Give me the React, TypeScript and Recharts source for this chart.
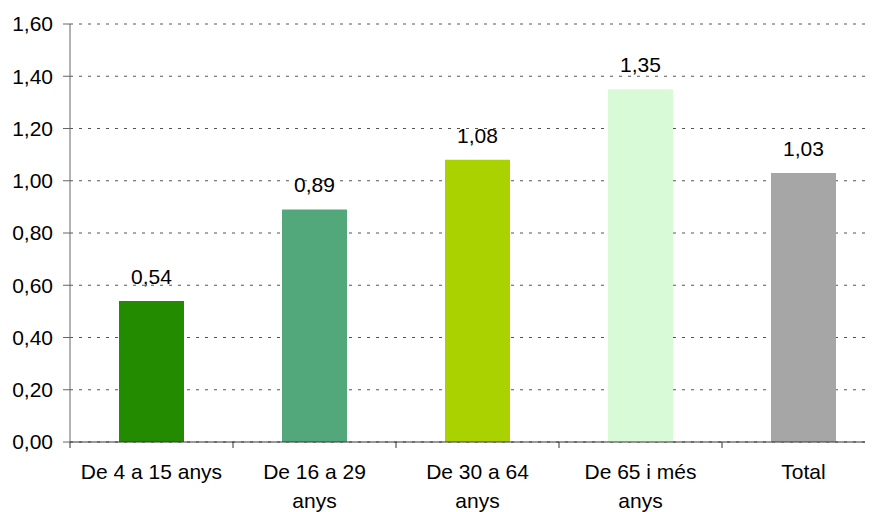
import React from 'react';
import { BarChart, Bar, XAxis, YAxis, CartesianGrid, LabelList, Cell } from 'recharts';

const categories = ['De 4 a 15 anys', 'De 16 a 29 anys', 'De 30 a 64 anys', 'De 65 i més anys', 'Total'];
const tickLines = [['De 4 a 15 anys'], ['De 16 a 29', 'anys'], ['De 30 a 64', 'anys'], ['De 65 i més', 'anys'], ['Total']];
const values = [0.54, 0.89, 1.08, 1.35, 1.03];
const colors = ['#228B00', '#52A87A', '#AAD200', '#D9FAD7', '#A6A6A6'];
const yTicks = [0, 0.2, 0.4, 0.6, 0.8, 1.0, 1.2, 1.4, 1.6];

const data = categories.map((name, i) => ({ name, value: values[i] }));

const fmt = (v: number) => v.toFixed(2).replace('.', ',');
const FONT = 'Liberation Sans, Arial, sans-serif';

const BAND = (885 - 70) / categories.length;

const CategoryTick = (props: any) => {
  const { x, y, payload, index } = props;
  const lines = tickLines[index] || [payload.value];
  return (
    <g>
      <line x1={x - BAND / 2} y1={y - 8} x2={x - BAND / 2} y2={y - 2} stroke="#333" />
      {index === categories.length - 1 && (
        <line x1={x + BAND / 2} y1={y - 8} x2={x + BAND / 2} y2={y - 2} stroke="#333" />
      )}
      <text x={x} y={y} textAnchor="middle" fill="#000" fontSize={21} fontFamily={FONT}>
        {lines.map((l: string, i: number) => (
          <tspan key={i} x={x} dy={29}>
            {l}
          </tspan>
        ))}
      </text>
    </g>
  );
};

export default function App() {
  return (
    <div style={{ marginLeft: -8, marginTop: -8, width: 873, height: 512, overflow: 'hidden' }}>
      <BarChart
        width={885}
        height={512}
        data={data}
        margin={{ top: 24, right: 0, left: 0, bottom: 0 }}
        barCategoryGap={0}
      >
        <CartesianGrid vertical={false} stroke="#555" strokeDasharray="3 6" />
        <XAxis
          dataKey="name"
          tickLine={false}
          axisLine={{ stroke: '#333' }}
          tick={<CategoryTick />}
          interval={0}
          height={70}
        />
        <YAxis
          domain={[0, 1.6]}
          ticks={yTicks}
          tickFormatter={fmt}
          width={70}
          tickSize={7}
          tickMargin={10}
          axisLine={{ stroke: '#666' }}
          tickLine={{ stroke: '#666' }}
          tick={{ fill: '#000', fontSize: 21, fontFamily: FONT }}
        />
        <Bar dataKey="value" barSize={65} isAnimationActive={false}>
          {data.map((d, i) => (
            <Cell key={d.name} fill={colors[i]} />
          ))}
          <LabelList
            dataKey="value"
            position="top"
            offset={17}
            formatter={(v: any) => fmt(Number(v))}
            style={{ fill: '#000', fontSize: 21, fontFamily: FONT }}
          />
        </Bar>
      </BarChart>
    </div>
  );
}
